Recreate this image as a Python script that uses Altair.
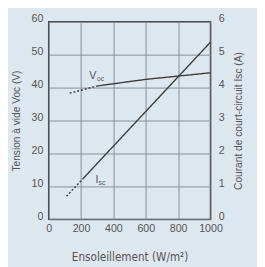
import altair as alt
import pandas as pd

# Voc (V) vs irradiance
voc_dash_x = [130, 300]
voc_dash_y = [38.3, 40.5]
voc_solid_x = [300, 600, 1000]
voc_solid_y = [40.5, 42.5, 44.5]
# Isc (A) vs irradiance
isc_dash_x = [110, 215]
isc_dash_y = [0.70, 1.25]
isc_solid_x = [215, 1000]
isc_solid_y = [1.25, 5.38]

x_ticks = [0, 200, 400, 600, 800, 1000]
v_ticks = [0, 10, 20, 30, 40, 50, 60]
a_ticks = [0, 1, 2, 3, 4, 5, 6]

GRID = "#878f97"
TXT = "#555555"
LINE = "#3a3a3a"
FONT = "Liberation Sans"

voc = pd.DataFrame({"w": voc_dash_x + voc_solid_x,
                    "v": voc_dash_y + voc_solid_y,
                    "seg": ["d"] * len(voc_dash_x) + ["s"] * len(voc_solid_x)})
isc = pd.DataFrame({"w": isc_dash_x + isc_solid_x,
                    "a": isc_dash_y + isc_solid_y,
                    "seg": ["d"] * len(isc_dash_x) + ["s"] * len(isc_solid_x)})

xs = alt.Scale(domain=[0, 1000], nice=False)
xax = alt.Axis(values=x_ticks, format="d", title="Ensoleillement (W/m²)", grid=True, gridColor=GRID,
               gridWidth=1, ticks=False, labelPadding=4, domain=False, labelOverlap=False,
               labelFlush=False,
               labelColor=TXT, labelFontSize=11, labelFont=FONT,
               titleColor=TXT, titleFontSize=12, titleFontWeight="normal",
               titleFont="DejaVu Sans Condensed", titlePadding=18)

vs = alt.Scale(domain=[0, 60], nice=False)
vax = alt.Axis(values=v_ticks, format="d", title="Tension à vide Voc (V)", grid=True, gridColor=GRID,
               gridWidth=1, ticks=False, labelPadding=6, domain=False, labelOverlap=False,
               labelFlush=False, labelOffset=-3,
               labelColor=TXT, labelFontSize=11, labelFont=FONT,
               titleColor=TXT, titleFontSize=10.5, titleFontWeight="normal",
               titleFont=FONT, titlePadding=10)
as_ = alt.Scale(domain=[0, 6], nice=False)
aax = alt.Axis(values=a_ticks, format="d", title="Courant de court-circuit Isc (A)", grid=False,
               orient="right", ticks=False, labelPadding=8, domain=False, labelOverlap=False,
               labelFlush=False, labelOffset=-3,
               labelColor=TXT, labelFontSize=11, labelFont=FONT,
               titleColor=TXT, titleFontSize=10.5, titleFontWeight="normal",
               titleFont=FONT, titlePadding=10, titleAngle=270, titleBaseline="top")

dash_scale = alt.Scale(domain=["d", "s"], range=[[2, 2], [1, 0]])

X = alt.X("w:Q", scale=xs, axis=xax)
YV = alt.Y("v:Q", scale=vs, axis=vax)
YA = alt.Y("a:Q", scale=as_, axis=aax)

voc_line = alt.Chart(voc).mark_line(color=LINE, strokeWidth=1.4).encode(
    x=X, y=YV,
    strokeDash=alt.StrokeDash("seg:N", scale=dash_scale, legend=None),
    detail="seg:N",
)

isc_line = alt.Chart(isc).mark_line(color=LINE, strokeWidth=1.4).encode(
    x=X, y=YA,
    strokeDash=alt.StrokeDash("seg:N", scale=dash_scale, legend=None),
    detail="seg:N",
)

# curve labels with subscripts
lab_v = pd.DataFrame({"w": [250], "v": [43.5], "t": ["V"]})
lab_vs = pd.DataFrame({"w": [250], "v": [43.5], "t": ["oc"]})
lab_i = pd.DataFrame({"w": [290], "a": [1.2], "t": ["I"]})
lab_is = pd.DataFrame({"w": [290], "a": [1.2], "t": ["sc"]})

tv = alt.Chart(lab_v).mark_text(fontSize=11, color=TXT, font=FONT, align="left", baseline="middle").encode(
    x=X, y=YV, text="t:N")
tvs = alt.Chart(lab_vs).mark_text(fontSize=7, color=TXT, font=FONT, align="left", baseline="middle", dx=8, dy=3).encode(
    x=X, y=YV, text="t:N")
ti = alt.Chart(lab_i).mark_text(fontSize=11, color=TXT, font=FONT, align="left", baseline="middle").encode(
    x=X, y=YA, text="t:N")
tis = alt.Chart(lab_is).mark_text(fontSize=7, color=TXT, font=FONT, align="left", baseline="middle", dx=3, dy=3).encode(
    x=X, y=YA, text="t:N")

left = alt.layer(voc_line, tv, tvs)
right = alt.layer(isc_line, ti, tis)

chart = alt.layer(left, right).resolve_scale(y="independent").properties(
    width=167, height=204,
    autosize="none",
    padding={"left": 42, "top": 10, "right": 48, "bottom": 45},
    background="#dde7ef",
).configure_view(stroke="#333333", strokeWidth=1.5, fill="#dde7ef")

chart.save("out.html", embed_options={"renderer": "svg", "actions": False})
